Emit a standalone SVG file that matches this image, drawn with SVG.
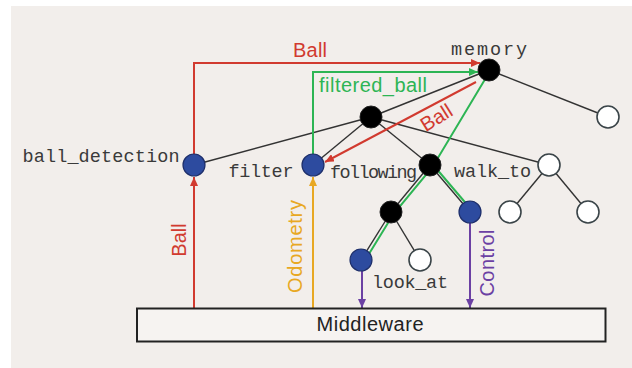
<svg xmlns="http://www.w3.org/2000/svg" width="632" height="368" viewBox="0 0 632 368">
  <style>
    .edge { stroke: #333; stroke-width: 1.4; fill: none; }
    .blk { fill: #000; stroke: #222; stroke-width: 1; }
    .blu { fill: #2d4b9f; stroke: #1e2f6a; stroke-width: 1.2; }
    .wht { fill: #fff; stroke: #3a4448; stroke-width: 1.6; }
    .mono { font-family: "Liberation Mono", "DejaVu Sans Mono", monospace; font-size: 18.5px; fill: #3a3a3a; }
    .sans { font-family: "Liberation Sans", Arial, sans-serif; font-size: 20px; }
    .red { stroke: #d13a2f; }
    .grn { stroke: #2db554; }
    .yel { stroke: #e8a823; }
    .pur { stroke: #6b40a3; }
    .flow { fill: none; stroke-width: 2; }
  </style>
  <defs>
    <marker id="ah-red" markerUnits="userSpaceOnUse" markerWidth="10" markerHeight="8" refX="9" refY="4" orient="auto">
      <path d="M0,0 L9,4 L0,8 z" fill="#d13a2f"/>
    </marker>
    <marker id="ah-grn" markerUnits="userSpaceOnUse" markerWidth="10" markerHeight="8" refX="9" refY="4" orient="auto">
      <path d="M0,0 L9,4 L0,8 z" fill="#2db554"/>
    </marker>
    <marker id="ah-yel" markerUnits="userSpaceOnUse" markerWidth="10" markerHeight="8" refX="9" refY="4" orient="auto">
      <path d="M0,0 L9,4 L0,8 z" fill="#e8a823"/>
    </marker>
    <marker id="ah-pur" markerUnits="userSpaceOnUse" markerWidth="10" markerHeight="8" refX="9" refY="4" orient="auto">
      <path d="M0,0 L9,4 L0,8 z" fill="#6b40a3"/>
    </marker>
  </defs>

  <rect x="0" y="0" width="632" height="368" fill="#ffffff"/>
  <rect x="11" y="6" width="621" height="362" fill="#f2eeeb"/>

  <!-- tree edges and data-flow connectors -->
  <g id="connectors">
    <line class="edge" x1="489" y1="70" x2="371" y2="117"/>
    <line class="edge" x1="489" y1="70" x2="608" y2="117"/>
    <line class="edge" x1="371" y1="117" x2="194" y2="165"/>
    <line class="edge" x1="371" y1="117" x2="313" y2="165"/>
    <line class="edge" x1="371" y1="117" x2="430" y2="165"/>
    <line class="edge" x1="371" y1="117" x2="549" y2="165"/>
    <line class="edge" x1="430" y1="165" x2="391" y2="212"/>
    <line class="edge" x1="430" y1="165" x2="470" y2="212"/>
    <line class="edge" x1="549" y1="165" x2="510" y2="212"/>
    <line class="edge" x1="549" y1="165" x2="588" y2="212"/>
    <line class="edge" x1="391" y1="212" x2="361" y2="260"/>
    <line class="edge" x1="391" y1="212" x2="420" y2="260"/>

    <!-- green: filtered_ball to memory, and memory down to the behaviours -->
    <path class="flow grn" d="M313,154 V72 H478" marker-end="url(#ah-grn)"/>
    <path class="flow grn" d="M487,76 L432.5,167 L393.5,214 L364,262"/>
    <path class="flow grn" d="M432,163.5 L472,210.5"/>

    <!-- red: Ball from ball_detection to memory, memory to filter -->
    <path class="flow red" d="M194,154 V63 H480" marker-end="url(#ah-red)"/>
    <path class="flow red" d="M476,82 L325,162" marker-end="url(#ah-red)"/>
    <path class="flow red" d="M194,308 V177" marker-end="url(#ah-red)"/>

    <!-- yellow: Odometry -->
    <path class="flow yel" d="M313,308 V177" marker-end="url(#ah-yel)"/>

    <!-- purple: Control outputs -->
    <path class="flow pur" d="M362,271 V308" marker-end="url(#ah-pur)"/>
    <path class="flow pur" d="M470,223 V308" marker-end="url(#ah-pur)"/>

    <text class="sans" x="293" y="57" fill="#d13a2f" textLength="34">Ball</text>
    <text class="sans" x="319" y="92" fill="#2db554" textLength="108">filtered_ball</text>
    <text class="sans" transform="translate(440,123.5) rotate(-32)" text-anchor="middle" fill="#d13a2f">Ball</text>
    <text class="sans" transform="translate(186,240) rotate(-90)" text-anchor="middle" fill="#d13a2f">Ball</text>
    <text class="sans" transform="translate(302,246.5) rotate(-90)" text-anchor="middle" fill="#e8a823" textLength="93">Odometry</text>
    <text class="sans" transform="translate(494,263) rotate(-90)" text-anchor="middle" fill="#6b40a3" textLength="67">Control</text>
  </g>

  <g id="memory">
    <circle class="blk" cx="489" cy="70" r="11"/>
    <text class="mono" x="451" y="55" textLength="76">memory</text>
  </g>
  <g id="sequence">
    <circle class="blk" cx="371" cy="117" r="11"/>
  </g>
  <g id="leaf-top-right">
    <circle class="wht" cx="608" cy="117" r="11"/>
  </g>
  <g id="ball_detection">
    <circle class="blu" cx="194" cy="165" r="11"/>
    <text class="mono" x="22.5" y="161.5" textLength="157">ball_detection</text>
  </g>
  <g id="filter">
    <circle class="blu" cx="313" cy="165" r="11"/>
    <text class="mono" x="228.5" y="177" textLength="65">filter</text>
  </g>
  <g id="following">
    <text class="mono" x="330" y="177.5" textLength="87">following</text>
    <circle class="blk" cx="430" cy="165" r="11"/>
  </g>
  <g id="walk_to">
    <circle class="wht" cx="549" cy="165" r="11"/>
    <text class="mono" x="454" y="177" textLength="77">walk_to</text>
  </g>
  <g id="following-child">
    <circle class="blk" cx="391" cy="212" r="11"/>
  </g>
  <g id="control">
    <circle class="blu" cx="470" cy="212" r="11"/>
  </g>
  <g id="walk_to-left">
    <circle class="wht" cx="510" cy="212" r="11"/>
  </g>
  <g id="walk_to-right">
    <circle class="wht" cx="588" cy="212" r="11"/>
  </g>
  <g id="look_at">
    <circle class="blu" cx="361" cy="260" r="11"/>
    <text class="mono" x="372" y="288" textLength="76">look_at</text>
  </g>
  <g id="look_at-sibling">
    <circle class="wht" cx="420" cy="260" r="11"/>
  </g>

  <g id="middleware">
    <rect x="137" y="308.5" width="468.5" height="33" fill="#f6f3f1" stroke="#222" stroke-width="2"/>
    <text class="sans" x="370" y="331" text-anchor="middle" fill="#222" font-size="21" textLength="107">Middleware</text>
  </g>
</svg>
